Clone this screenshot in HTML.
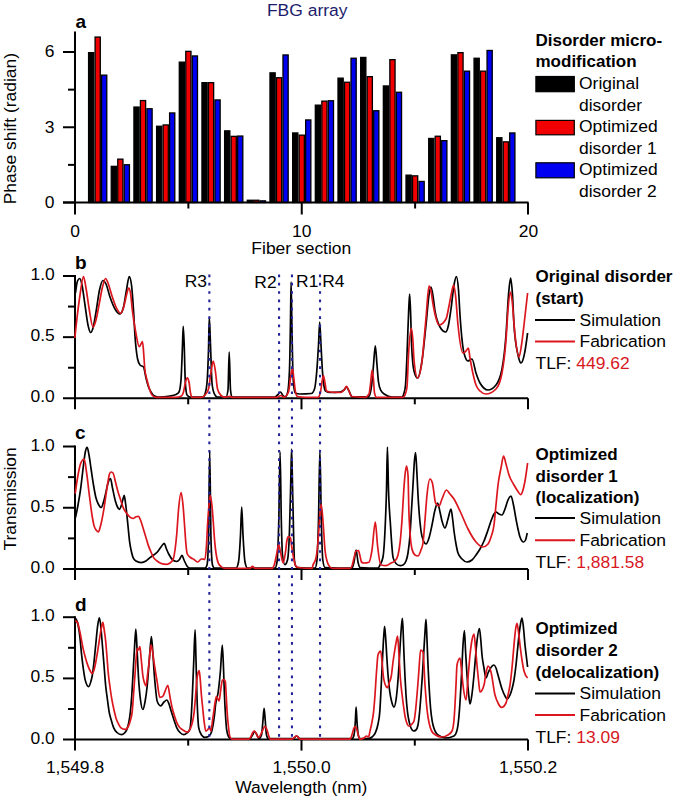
<!DOCTYPE html><html><head><meta charset="utf-8"><style>html,body{margin:0;padding:0;background:#fff;overflow:hidden;}svg{display:block;}</style></head><body>
<svg width="675" height="801" viewBox="0 0 675 801" font-family="&apos;Liberation Sans&apos;, sans-serif" font-size="16.8">
<rect width="675" height="801" fill="#fff"/>
<rect x="88.58" y="52.65" width="5.2" height="149.85" fill="#000" stroke="#000" stroke-width="1.3"/>
<rect x="95.08" y="37.05" width="5.2" height="165.45" fill="#f00000" stroke="#000" stroke-width="1.3"/>
<rect x="101.58" y="75.15" width="5.2" height="127.35" fill="#0000f0" stroke="#000" stroke-width="1.3"/>
<rect x="111.25" y="166.35" width="5.2" height="36.15" fill="#000" stroke="#000" stroke-width="1.3"/>
<rect x="117.75" y="159.15" width="5.2" height="43.35" fill="#f00000" stroke="#000" stroke-width="1.3"/>
<rect x="124.25" y="164.75" width="5.2" height="37.75" fill="#0000f0" stroke="#000" stroke-width="1.3"/>
<rect x="133.93" y="107.05" width="5.2" height="95.45" fill="#000" stroke="#000" stroke-width="1.3"/>
<rect x="140.43" y="100.55" width="5.2" height="101.95" fill="#f00000" stroke="#000" stroke-width="1.3"/>
<rect x="146.93" y="108.75" width="5.2" height="93.75" fill="#0000f0" stroke="#000" stroke-width="1.3"/>
<rect x="156.6" y="126.25" width="5.2" height="76.25" fill="#000" stroke="#000" stroke-width="1.3"/>
<rect x="163.1" y="124.95" width="5.2" height="77.55" fill="#f00000" stroke="#000" stroke-width="1.3"/>
<rect x="169.6" y="112.95" width="5.2" height="89.55" fill="#0000f0" stroke="#000" stroke-width="1.3"/>
<rect x="179.28" y="62.15" width="5.2" height="140.35" fill="#000" stroke="#000" stroke-width="1.3"/>
<rect x="185.78" y="51.35" width="5.2" height="151.15" fill="#f00000" stroke="#000" stroke-width="1.3"/>
<rect x="192.28" y="55.95" width="5.2" height="146.55" fill="#0000f0" stroke="#000" stroke-width="1.3"/>
<rect x="201.95" y="82.65" width="5.2" height="119.85" fill="#000" stroke="#000" stroke-width="1.3"/>
<rect x="208.45" y="82.65" width="5.2" height="119.85" fill="#f00000" stroke="#000" stroke-width="1.3"/>
<rect x="214.95" y="99.95" width="5.2" height="102.55" fill="#0000f0" stroke="#000" stroke-width="1.3"/>
<rect x="224.62" y="130.85" width="5.2" height="71.65" fill="#000" stroke="#000" stroke-width="1.3"/>
<rect x="231.12" y="136.35" width="5.2" height="66.15" fill="#f00000" stroke="#000" stroke-width="1.3"/>
<rect x="237.62" y="136.05" width="5.2" height="66.45" fill="#0000f0" stroke="#000" stroke-width="1.3"/>
<rect x="247.3" y="200.25" width="5.2" height="2.25" fill="#000" stroke="#000" stroke-width="1.3"/>
<rect x="253.8" y="200.25" width="5.2" height="2.25" fill="#f00000" stroke="#000" stroke-width="1.3"/>
<rect x="260.3" y="200.85" width="5.2" height="1.65" fill="#0000f0" stroke="#000" stroke-width="1.3"/>
<rect x="269.98" y="72.85" width="5.2" height="129.65" fill="#000" stroke="#000" stroke-width="1.3"/>
<rect x="276.48" y="77.75" width="5.2" height="124.75" fill="#f00000" stroke="#000" stroke-width="1.3"/>
<rect x="282.98" y="54.95" width="5.2" height="147.55" fill="#0000f0" stroke="#000" stroke-width="1.3"/>
<rect x="292.65" y="132.95" width="5.2" height="69.55" fill="#000" stroke="#000" stroke-width="1.3"/>
<rect x="299.15" y="135.15" width="5.2" height="67.35" fill="#f00000" stroke="#000" stroke-width="1.3"/>
<rect x="305.65" y="119.95" width="5.2" height="82.55" fill="#0000f0" stroke="#000" stroke-width="1.3"/>
<rect x="315.32" y="105.15" width="5.2" height="97.35" fill="#000" stroke="#000" stroke-width="1.3"/>
<rect x="321.82" y="101.15" width="5.2" height="101.35" fill="#f00000" stroke="#000" stroke-width="1.3"/>
<rect x="328.32" y="100.75" width="5.2" height="101.75" fill="#0000f0" stroke="#000" stroke-width="1.3"/>
<rect x="338" y="78.15" width="5.2" height="124.35" fill="#000" stroke="#000" stroke-width="1.3"/>
<rect x="344.5" y="82.25" width="5.2" height="120.25" fill="#f00000" stroke="#000" stroke-width="1.3"/>
<rect x="351" y="58.25" width="5.2" height="144.25" fill="#0000f0" stroke="#000" stroke-width="1.3"/>
<rect x="360.68" y="57.45" width="5.2" height="145.05" fill="#000" stroke="#000" stroke-width="1.3"/>
<rect x="367.18" y="76.65" width="5.2" height="125.85" fill="#f00000" stroke="#000" stroke-width="1.3"/>
<rect x="373.68" y="110.75" width="5.2" height="91.75" fill="#0000f0" stroke="#000" stroke-width="1.3"/>
<rect x="383.35" y="85.95" width="5.2" height="116.55" fill="#000" stroke="#000" stroke-width="1.3"/>
<rect x="389.85" y="59.65" width="5.2" height="142.85" fill="#f00000" stroke="#000" stroke-width="1.3"/>
<rect x="396.35" y="92.25" width="5.2" height="110.25" fill="#0000f0" stroke="#000" stroke-width="1.3"/>
<rect x="406.02" y="175.15" width="5.2" height="27.35" fill="#000" stroke="#000" stroke-width="1.3"/>
<rect x="412.52" y="175.85" width="5.2" height="26.65" fill="#f00000" stroke="#000" stroke-width="1.3"/>
<rect x="419.02" y="181.45" width="5.2" height="21.05" fill="#0000f0" stroke="#000" stroke-width="1.3"/>
<rect x="428.7" y="138.45" width="5.2" height="64.05" fill="#000" stroke="#000" stroke-width="1.3"/>
<rect x="435.2" y="136.25" width="5.2" height="66.25" fill="#f00000" stroke="#000" stroke-width="1.3"/>
<rect x="441.7" y="140.65" width="5.2" height="61.85" fill="#0000f0" stroke="#000" stroke-width="1.3"/>
<rect x="451.38" y="54.85" width="5.2" height="147.65" fill="#000" stroke="#000" stroke-width="1.3"/>
<rect x="457.88" y="52.65" width="5.2" height="149.85" fill="#f00000" stroke="#000" stroke-width="1.3"/>
<rect x="464.38" y="71.15" width="5.2" height="131.35" fill="#0000f0" stroke="#000" stroke-width="1.3"/>
<rect x="474.05" y="58.25" width="5.2" height="144.25" fill="#000" stroke="#000" stroke-width="1.3"/>
<rect x="480.55" y="71.15" width="5.2" height="131.35" fill="#f00000" stroke="#000" stroke-width="1.3"/>
<rect x="487.05" y="50.45" width="5.2" height="152.05" fill="#0000f0" stroke="#000" stroke-width="1.3"/>
<rect x="496.72" y="137.75" width="5.2" height="64.75" fill="#000" stroke="#000" stroke-width="1.3"/>
<rect x="503.22" y="141.85" width="5.2" height="60.65" fill="#f00000" stroke="#000" stroke-width="1.3"/>
<rect x="509.72" y="132.95" width="5.2" height="69.55" fill="#0000f0" stroke="#000" stroke-width="1.3"/>
<path d="M75,31.5 V214.5 M63,202.5 H528.5 M528,202.5 V214.5" stroke="#000" stroke-width="2" fill="none"/>
<path d="M63,202.5 H75" stroke="#000" stroke-width="2" fill="none"/>
<path d="M68,164.88 H75" stroke="#000" stroke-width="2" fill="none"/>
<path d="M63,127.26 H75" stroke="#000" stroke-width="2" fill="none"/>
<path d="M68,89.64 H75" stroke="#000" stroke-width="2" fill="none"/>
<path d="M63,52.02 H75" stroke="#000" stroke-width="2" fill="none"/>
<path d="M188.38,202.5 V208.5" stroke="#000" stroke-width="2" fill="none"/>
<path d="M301.75,202.5 V214.5" stroke="#000" stroke-width="2" fill="none"/>
<path d="M415.12,202.5 V208.5" stroke="#000" stroke-width="2" fill="none"/>
<text transform="translate(54.5,207.8) scale(1.04,1)" text-anchor="end">0</text>
<text transform="translate(54.5,132.56) scale(1.04,1)" text-anchor="end">3</text>
<text transform="translate(54.5,57.32) scale(1.04,1)" text-anchor="end">6</text>
<text transform="translate(75,236.5) scale(1.04,1)" text-anchor="middle">0</text>
<text transform="translate(301.75,236.5) scale(1.04,1)" text-anchor="middle">10</text>
<text transform="translate(528.5,236.5) scale(1.04,1)" text-anchor="middle">20</text>
<text transform="translate(301.3,254) scale(1.04,1)" text-anchor="middle">Fiber section</text>
<text transform="translate(15.5,128.6) rotate(-90) scale(1.04,1)" text-anchor="middle">Phase shift (radian)</text>
<text x="75.6" y="27.9" font-weight="bold" font-size="19">a</text>
<text transform="translate(307.2,16.2) scale(1.04,1)" text-anchor="middle" fill="#1c1c6c">FBG array</text>
<text x="535.5" y="45.6" font-weight="bold" font-size="17">Disorder micro-</text>
<text x="535.5" y="66.8" font-weight="bold" font-size="17">modification</text>
<rect x="535.9" y="76.5" width="38.4" height="15.2" fill="#000" stroke="#000" stroke-width="1.2"/>
<text transform="translate(579,89.3) scale(1.04,1)">Original</text>
<text transform="translate(579,110.6) scale(1.04,1)">disorder</text>
<rect x="535.9" y="120.4" width="38.4" height="14.4" fill="#f00000" stroke="#000" stroke-width="1.2"/>
<text transform="translate(579,132.2) scale(1.04,1)">Optimized</text>
<text transform="translate(579,153.5) scale(1.04,1)">disorder 1</text>
<rect x="535.9" y="162.8" width="38.4" height="15" fill="#0000f0" stroke="#000" stroke-width="1.2"/>
<text transform="translate(579,175.4) scale(1.04,1)">Optimized</text>
<text transform="translate(579,196.7) scale(1.04,1)">disorder 2</text>
<path d="M75,275 V409.3 M63,398.3 H528 M528,398.3 V409.3" stroke="#000" stroke-width="2" fill="none"/>
<path d="M68,367.73 H75" stroke="#000" stroke-width="2" fill="none"/>
<path d="M63,337.15 H75" stroke="#000" stroke-width="2" fill="none"/>
<path d="M68,306.57 H75" stroke="#000" stroke-width="2" fill="none"/>
<path d="M63,276 H75" stroke="#000" stroke-width="2" fill="none"/>
<path d="M188.2,398.3 V404.3" stroke="#000" stroke-width="2" fill="none"/>
<path d="M301.5,398.3 V409.3" stroke="#000" stroke-width="2" fill="none"/>
<path d="M414.8,398.3 V404.3" stroke="#000" stroke-width="2" fill="none"/>
<text transform="translate(54.7,402.3) scale(1.04,1)" text-anchor="end">0.0</text>
<text transform="translate(54.7,341.15) scale(1.04,1)" text-anchor="end">0.5</text>
<text transform="translate(54.7,280) scale(1.04,1)" text-anchor="end">1.0</text>
<text x="75" y="268.5" font-weight="bold" font-size="19">b</text>
<path d="M75,445.5 V580 M63,569 H528 M528,569 V580" stroke="#000" stroke-width="2" fill="none"/>
<path d="M68,538.38 H75" stroke="#000" stroke-width="2" fill="none"/>
<path d="M63,507.75 H75" stroke="#000" stroke-width="2" fill="none"/>
<path d="M68,477.12 H75" stroke="#000" stroke-width="2" fill="none"/>
<path d="M63,446.5 H75" stroke="#000" stroke-width="2" fill="none"/>
<path d="M188.2,569 V575" stroke="#000" stroke-width="2" fill="none"/>
<path d="M301.5,569 V580" stroke="#000" stroke-width="2" fill="none"/>
<path d="M414.8,569 V575" stroke="#000" stroke-width="2" fill="none"/>
<text transform="translate(54.7,573) scale(1.04,1)" text-anchor="end">0.0</text>
<text transform="translate(54.7,511.75) scale(1.04,1)" text-anchor="end">0.5</text>
<text transform="translate(54.7,450.5) scale(1.04,1)" text-anchor="end">1.0</text>
<text x="75" y="438.8" font-weight="bold" font-size="19">c</text>
<path d="M75,616.2 V750.6 M63,739.6 H528 M528,739.6 V750.6" stroke="#000" stroke-width="2" fill="none"/>
<path d="M68,709 H75" stroke="#000" stroke-width="2" fill="none"/>
<path d="M63,678.4 H75" stroke="#000" stroke-width="2" fill="none"/>
<path d="M68,647.8 H75" stroke="#000" stroke-width="2" fill="none"/>
<path d="M63,617.2 H75" stroke="#000" stroke-width="2" fill="none"/>
<path d="M188.2,739.6 V745.6" stroke="#000" stroke-width="2" fill="none"/>
<path d="M301.5,739.6 V750.6" stroke="#000" stroke-width="2" fill="none"/>
<path d="M414.8,739.6 V745.6" stroke="#000" stroke-width="2" fill="none"/>
<text transform="translate(54.7,743.6) scale(1.04,1)" text-anchor="end">0.0</text>
<text transform="translate(54.7,682.4) scale(1.04,1)" text-anchor="end">0.5</text>
<text transform="translate(54.7,621.2) scale(1.04,1)" text-anchor="end">1.0</text>
<text x="75" y="611.2" font-weight="bold" font-size="19">d</text>
<path d="M75.5,293 C76.17,287.72 76.83,282.45 77.5,281 C78.27,279.33 79.03,278.5 79.8,278.5 C80.53,278.5 81.27,281.68 82,285 C83,289.53 84,298.33 85,305 C86,311.67 87,320.36 88,325 C88.87,329.02 89.73,332.5 90.6,332.5 C91.4,332.5 92.2,330.73 93,328 C94,324.59 95,317.77 96,312 C97.17,305.26 98.33,295.27 99.5,290 C100.63,284.88 101.77,280.5 102.9,280.5 C103.93,280.5 104.97,281.88 106,284 C107.33,286.74 108.67,293.17 110,297 C111.67,301.79 113.33,306.16 115,309 C116.6,311.73 118.2,314 119.8,314 C120.87,314 121.93,312.33 123,309 C124.17,305.35 125.33,296.05 126.5,290 C127.4,285.33 128.3,276.5 129.2,276.5 C129.97,276.5 130.73,279.33 131.5,285 C132.17,289.93 132.83,299.83 133.5,310 C134,317.63 134.5,328.89 135,336 C135.87,348.33 136.73,354.67 137.6,359 C138.4,363 139.2,364.09 140,365 C141.17,366.33 142.33,365.67 143.5,367 C144.33,367.95 145.17,374.67 146,378 C146.73,380.93 147.47,383.82 148.2,386 C149.13,388.78 150.07,390.39 151,392 C151.87,393.5 152.73,394.91 153.6,395.5 C155.07,396.5 156.53,397 158,397 C162,397 166,396.67 170,396 C172,395.67 174,395.5 176,394.5 C177,394 178,393.67 179,392 C179.67,390.89 180.33,388 181,380 C181.5,374 182,357.82 182.5,345 C182.73,339.02 182.97,326.3 183.2,326.3 C183.53,326.3 183.87,336.4 184.2,345 C184.57,354.46 184.93,376.39 185.3,382 C185.87,390.67 186.43,394.24 187,395 C188,396.33 189,397 190,397 C194.33,397 198.67,397 203,397 C203.67,397 204.33,396 205,394 C205.67,392 206.33,390.33 207,383 C207.5,377.5 208,367.11 208.5,350 C208.77,340.87 209.03,317.4 209.3,317.4 C209.7,317.4 210.1,335.39 210.5,345 C211,357.02 211.5,378 212,383 C212.67,389.67 213.33,391.38 214,393 C215.1,395.67 216.2,397 217.3,397 C220.2,397 223.1,397 226,397 C226.67,397 227.33,394.67 228,390 C228.4,387.2 228.8,352 229.2,352 C229.63,352 230.07,385.96 230.5,390 C231,394.67 231.5,397 232,397 C246.33,397 260.67,397 275,397 C275.83,397 276.67,395.76 277.5,395 C278.47,394.12 279.43,392 280.4,392 C281.27,392 282.13,394.63 283,395.5 C283.67,396.17 284.33,397 285,397 C285.83,397 286.67,395.67 287.5,393 C288.17,390.87 288.83,385.33 289.5,370 C289.83,362.33 290.17,339.44 290.5,320 C290.7,308.33 290.9,282 291.1,282 C291.33,282 291.57,307.75 291.8,320 C292.13,337.51 292.47,360 292.8,370 C293.2,382 293.6,384.92 294,388 C294.43,391.33 294.87,392.82 295.3,393 C296.87,393.67 298.43,394 300,394 C303.77,394 307.53,393.83 311.3,393.5 C312.37,393.41 313.43,392 314.5,389 C315.23,386.94 315.97,380.6 316.7,372 C317.3,364.96 317.9,355.44 318.5,345 C318.9,338.04 319.3,322.2 319.7,322.2 C320.13,322.2 320.57,337.31 321,345 C321.5,353.88 322,365.17 322.5,372 C323,378.83 323.5,382.88 324,386 C324.53,389.33 325.07,390.64 325.6,391 C327.07,392 328.53,392.5 330,392.5 C333.33,392.5 336.67,392.33 340,392 C341.33,391.87 342.67,391.18 344,390 C344.83,389.27 345.67,387.2 346.5,387.2 C347.33,387.2 348.17,389.6 349,391 C350.07,392.79 351.13,397 352.2,397 C354.8,397 357.4,396.8 360,396.8 C362.67,396.8 365.33,397 368,397 C368.67,397 369.33,396 370,394 C370.67,392 371.33,388.03 372,382 C372.5,377.48 373,370.52 373.5,365 C374.1,358.38 374.7,345.8 375.3,345.8 C375.87,345.8 376.43,358.59 377,365 C377.5,370.66 378,378.27 378.5,382 C379.23,387.47 379.97,388.73 380.7,390.2 C382.13,393.07 383.57,393.48 385,394.5 C387.33,396.17 389.67,397 392,397 C395.33,397 398.67,397 402,397 C402.67,397 403.33,395.6 404,393 C404.5,391.05 405,390.33 405.5,385 C406,379.67 406.5,366.67 407,355 C407.5,343.33 408,326.15 408.5,315 C408.87,306.82 409.23,294 409.6,294 C409.9,294 410.2,302.77 410.5,310 C410.87,318.84 411.23,337.06 411.6,345 C412.4,362.33 413.2,367.89 414,371 C415.2,375.67 416.4,378 417.6,378 C419.07,378 420.53,370.61 422,361 C423.33,352.26 424.67,337.76 426,325 C427,315.43 428,301.4 429,295 C429.67,290.73 430.33,287 431,287 C431.67,287 432.33,292 433,296 C433.67,300 434.33,306.82 435,311 C436.67,321.45 438.33,324.02 440,327 C441.87,330.33 443.73,332 445.6,332 C446.57,332 447.53,329.4 448.5,325 C449.33,321.2 450.17,314.94 451,309 C452,301.87 453,290.5 454,285 C454.8,280.6 455.6,276.6 456.4,276.6 C457.1,276.6 457.8,281.33 458.5,290 C459,296.19 459.5,307.64 460,315 C461.33,334.62 462.67,347.67 464,353 C465.33,358.33 466.67,361 468,361 C469.33,361 470.67,359 472,359 C473.33,359 474.67,369 476,373 C477.33,377 478.67,380.67 480,383 C482.67,387.67 485.33,390 488,390 C490.67,390 493.33,388.33 496,385 C498,382.5 500,379.67 502,369 C503.33,361.89 504.67,352.49 506,335 C506.83,324.07 507.67,304.75 508.5,295 C509.2,286.81 509.9,278 510.6,278 C511.23,278 511.87,285.42 512.5,295 C513,302.56 513.5,317.5 514,325 C515.33,345 516.67,348.68 518,355 C519,359.74 520,363 521,363 C522.33,363 523.67,358.17 525,351 C525.87,346.34 526.73,339.67 527.6,333" fill="none" stroke="#000" stroke-width="1.7" stroke-linejoin="round"/>
<path d="M75.5,517.6 C76.33,513.63 77.17,509.66 78,505 C78.9,499.97 79.8,494.81 80.7,488.3 C81.63,481.55 82.57,472.05 83.5,465 C84.17,459.97 84.83,453.82 85.5,451 C86.07,448.6 86.63,447.4 87.2,447.4 C87.8,447.4 88.4,451.8 89,455 C89.77,459.08 90.53,465.39 91.3,470.5 C92.03,475.39 92.77,480.63 93.5,485 C94.27,489.57 95.03,494.05 95.8,497.2 C96.7,500.9 97.6,502.78 98.5,504.5 C99.37,506.16 100.23,507.5 101.1,507.5 C101.9,507.5 102.7,504.56 103.5,502 C104.2,499.76 104.9,496.54 105.6,493.6 C106.4,490.24 107.2,485.51 108,483 C108.83,480.39 109.67,478.5 110.5,478.5 C111.17,478.5 111.83,484.89 112.5,488 C113.43,492.35 114.37,497.34 115.3,500.7 C116.03,503.34 116.77,505.55 117.5,507 C118.13,508.25 118.77,509.3 119.4,509.3 C120.1,509.3 120.8,507.23 121.5,505 C122,503.41 122.5,500.72 123,499 C123.4,497.62 123.8,495.4 124.2,495.4 C124.63,495.4 125.07,499.9 125.5,503 C125.97,506.34 126.43,510.65 126.9,515 C127.33,519.04 127.77,523.73 128.2,528 C128.67,532.6 129.13,537.91 129.6,541.6 C130.23,546.61 130.87,549.21 131.5,552 C132.03,554.35 132.57,556.35 133.1,557.6 C134.07,559.87 135.03,560.39 136,561 C137.7,562.07 139.4,562.6 141.1,562.6 C142.73,562.6 144.37,562 146,561 C147.33,560.18 148.67,558.68 150,557.6 C152.37,555.68 154.73,555 157.1,552.3 C158.4,550.82 159.7,548.6 161,547 C162.07,545.69 163.13,543.4 164.2,543.4 C164.97,543.4 165.73,547.2 166.5,549 C167.23,550.72 167.97,552.54 168.7,554 C170.17,556.91 171.63,559.14 173.1,560.2 C174.3,561.07 175.5,561.5 176.7,561.5 C177.63,561.5 178.57,560.62 179.5,559.5 C180.33,558.5 181.17,555.4 182,555.4 C182.67,555.4 183.33,558.55 184,560 C185.1,562.39 186.2,565.14 187.3,566.5 C188.2,567.61 189.1,568.2 190,568.2 C195,568.2 200,568.2 205,568.2 C205.67,568.2 206.33,567.13 207,565 C207.5,563.4 208,556.67 208.5,540 C208.9,526.67 209.3,451 209.7,451 C210.13,451 210.57,525.56 211,540 C211.5,556.67 212,563.4 212.5,565 C213.17,567.13 213.83,568.2 214.5,568.2 C221.67,568.2 228.83,568.2 236,568.2 C236.83,568.2 237.67,566.13 238.5,562 C239.17,558.69 239.83,548.1 240.5,535 C240.9,527.14 241.3,507 241.7,507 C242.13,507 242.57,527.04 243,535 C243.67,547.25 244.33,558.69 245,562 C245.83,566.13 246.67,568.2 247.5,568.2 C256.67,568.2 265.83,568.2 275,568.2 C275.67,568.2 276.33,566.13 277,562 C277.6,558.28 278.2,544.09 278.8,520 C279.23,502.6 279.67,452 280.1,452 C280.5,452 280.9,502.83 281.3,520 C281.7,537.17 282.1,551.77 282.5,555 C283.3,561.47 284.1,564.7 284.9,564.7 C285.77,564.7 286.63,563.13 287.5,560 C288.17,557.59 288.83,549.48 289.5,530 C289.93,517.34 290.37,496.68 290.8,480 C291.07,469.74 291.33,449.2 291.6,449.2 C291.87,449.2 292.13,468.95 292.4,480 C292.77,495.19 293.13,515.78 293.5,530 C293.8,541.64 294.1,557.56 294.4,560 C294.93,564.33 295.47,565.97 296,566.5 C296.67,567.17 297.33,567.45 298,567.5 C303.67,567.97 309.33,568.2 315,568.2 C315.67,568.2 316.33,565.47 317,560 C317.5,555.9 318,539.35 318.5,520 C318.97,501.94 319.43,450.1 319.9,450.1 C320.37,450.1 320.83,501.94 321.3,520 C321.8,539.35 322.3,556.59 322.8,560 C323.53,565 324.27,567.46 325,567.5 C334,567.97 343,568.2 352,568.2 C352.67,568.2 353.33,564.9 354,562 C354.7,558.95 355.4,550.1 356.1,550.1 C356.73,550.1 357.37,559.12 358,562 C358.67,565.03 359.33,567.45 360,567.5 C366,567.97 372,568.2 378,568.2 C378.67,568.2 379.33,566.35 380,565 C381,562.97 382,562.33 383,557 C383.77,552.91 384.53,541.78 385.3,523.8 C385.7,514.42 386.1,505.72 386.5,490 C386.8,478.21 387.1,447.1 387.4,447.1 C387.77,447.1 388.13,478.55 388.5,490 C389.13,509.77 389.77,513.91 390.4,523.8 C391.3,537.85 392.2,553.94 393.1,557.6 C394.07,561.53 395.03,562.53 396,563.5 C397.4,564.9 398.8,565.6 400.2,565.6 C401.13,565.6 402.07,565.4 403,565 C404,564.57 405,563.67 406,561 C406.67,559.22 407.33,557.33 408,553 C408.67,548.67 409.33,543.92 410,535 C410.5,528.31 411,518.33 411.5,510 C412,501.67 412.5,493.33 413,485 C413.5,476.67 414,465.47 414.5,460 C414.87,455.99 415.23,452.6 415.6,452.6 C416.07,452.6 416.53,466.44 417,475 C417.33,481.11 417.67,489 418,495 C419,513 420,523.36 421,531 C421.83,537.36 422.67,539 423.5,541 C424.33,543 425.17,544 426,544 C427,544 428,541.17 429,538 C430,534.83 431,529.67 432,525 C433,520.33 434,513.76 435,510 C435.87,506.74 436.73,503 437.6,503 C438.4,503 439.2,508.67 440,512 C440.67,514.77 441.33,518.58 442,521 C443,524.63 444,528 445,528 C446,528 447,522.17 448,519 C449,515.83 450,509 451,509 C451.5,509 452,514.33 452.5,518 C453,521.67 453.5,527.13 454,531 C454.67,536.16 455.33,540.33 456,544 C456.67,547.67 457.33,551 458,553 C459.33,557 460.67,557.53 462,559 C463.67,560.83 465.33,562 467,562 C468.67,562 470.33,561.33 472,560 C473.33,558.93 474.67,556.83 476,555 C477.33,553.17 478.67,551.33 480,549 C481.33,546.67 482.67,544.17 484,541 C485.33,537.83 486.67,533.86 488,530 C489,527.11 490,523.67 491,521 C492,518.33 493,515.53 494,514 C494.67,512.98 495.33,512 496,512 C497,512 498,513.5 499,514 C500,514.5 501,515 502,515 C503,515 504,511.5 505,509 C506,506.5 507,502.17 508,500 C509,497.83 510,496 511,496 C511.83,496 512.67,501.17 513.5,505 C514.33,508.83 515.17,514.61 516,519 C516.67,522.51 517.33,526 518,529 C518.67,532 519.33,535.15 520,537 C521.2,540.33 522.4,542 523.6,542 C524.23,542 524.87,541.33 525.5,540 C526.07,538.81 526.63,535.9 527.2,533" fill="none" stroke="#000" stroke-width="1.7" stroke-linejoin="round"/>
<path d="M75.5,618.3 C76.33,619.38 77.17,620.46 78,624.5 C78.67,627.73 79.33,632.13 80,638 C80.53,642.69 81.07,649.71 81.6,654.7 C82.23,660.62 82.87,665.61 83.5,670 C84.03,673.7 84.57,677.5 85.1,679.6 C86.3,684.33 87.5,686.7 88.7,686.7 C89.47,686.7 90.23,683.75 91,681 C91.4,679.56 91.8,678.24 92.2,676 C92.8,672.63 93.4,667.33 94,662 C94.6,656.67 95.2,650 95.8,644 C96.37,638.33 96.93,631.32 97.5,627 C98.1,622.42 98.7,617.8 99.3,617.8 C99.8,617.8 100.3,621.43 100.8,626 C101.2,629.66 101.6,635.64 102,640.5 C102.67,648.6 103.33,656.74 104,665 C104.53,671.61 105.07,679.46 105.6,685 C106.23,691.58 106.87,695.22 107.5,700 C108.03,704.02 108.57,708.44 109.1,711.6 C109.9,716.33 110.7,718.2 111.5,721 C112.2,723.45 112.9,725.85 113.6,727.6 C114.73,730.43 115.87,731.42 117,732.5 C118.53,733.97 120.07,734.7 121.6,734.7 C122.57,734.7 123.53,734.05 124.5,733 C125.3,732.13 126.1,731.56 126.9,729.4 C127.57,727.6 128.23,725.7 128.9,722 C129.4,719.23 129.9,716.34 130.4,711.6 C130.87,707.18 131.33,701.85 131.8,695 C132.23,688.64 132.67,680.04 133.1,672.5 C133.57,664.38 134.03,655.47 134.5,648 C134.93,641.06 135.37,629 135.8,629 C136.2,629 136.6,640.9 137,648 C137.47,656.29 137.93,668.27 138.4,676 C139.1,687.6 139.8,694.46 140.5,700 C141.3,706.33 142.1,709.5 142.9,709.5 C143.6,709.5 144.3,705.78 145,702 C145.77,697.86 146.53,692.76 147.3,685 C148.03,677.58 148.77,665.55 149.5,657 C150.13,649.62 150.77,636.6 151.4,636.6 C151.93,636.6 152.47,647.87 153,655 C153.47,661.24 153.93,670 154.4,676 C154.87,682 155.33,686.73 155.8,691 C156.23,694.96 156.67,699.82 157.1,701 C158.3,704.27 159.5,705.9 160.7,705.9 C161.8,705.9 162.9,703.01 164,702 C164.97,701.11 165.93,700 166.9,700 C167.6,700 168.3,702.2 169,704 C169.77,705.97 170.53,709.13 171.3,711.6 C172.2,714.49 173.1,717.33 174,720 C174.9,722.67 175.8,725.61 176.7,727.6 C177.8,730.04 178.9,731.33 180,732.5 C181.27,733.85 182.53,734.7 183.8,734.7 C184.87,734.7 185.93,734 187,733 C187.93,732.13 188.87,731.8 189.8,729.4 C190.27,728.2 190.73,723.77 191.2,717 C191.6,711.2 192,702.42 192.4,693.8 C192.87,683.74 193.33,671.03 193.8,660 C194.23,649.76 194.67,629.9 195.1,629.9 C195.4,629.9 195.7,649.35 196,660 C196.3,670.65 196.6,684.41 196.9,693.8 C197.5,712.58 198.1,724.43 198.7,727.6 C199.63,732.53 200.57,733.68 201.5,735 C202.63,736.6 203.77,737.4 204.9,737.4 C206.1,737.4 207.3,737.1 208.5,736.5 C209.5,736 210.5,735 211.5,732 C211.97,730.6 212.43,728.37 212.9,725.8 C213.43,722.86 213.97,719.48 214.5,715 C214.87,711.92 215.23,707.48 215.6,704.5 C216.47,697.45 217.33,698.35 218.2,692 C218.97,686.38 219.73,679.19 220.5,670 C221.1,662.81 221.7,645 222.3,645 C222.7,645 223.1,658.16 223.5,668 C223.8,675.38 224.1,686.47 224.4,693.8 C224.77,702.76 225.13,709.07 225.5,715 C225.87,720.93 226.23,726.66 226.6,729.4 C227.23,734.13 227.87,735.39 228.5,736.5 C229.33,737.97 230.17,738.7 231,738.7 C237.33,738.7 243.67,738.7 250,738.7 C250.83,738.7 251.67,736.28 252.5,735 C253.23,733.87 253.97,731.5 254.7,731.5 C255.47,731.5 256.23,733.7 257,735 C257.67,736.13 258.33,738.7 259,738.7 C259.83,738.7 260.67,737.47 261.5,735 C262,733.52 262.5,725.16 263,720 C263.37,716.22 263.73,708.4 264.1,708.4 C264.47,708.4 264.83,715.97 265.2,720 C265.63,724.77 266.07,733.4 266.5,735 C267.17,737.47 267.83,738.7 268.5,738.7 C276.67,738.7 284.83,738.7 293,738.7 C294.2,738.7 295.4,736 296.6,736 C297.73,736 298.87,738.7 300,738.7 C317.33,738.7 334.67,738.7 352,738.7 C352.67,738.7 353.33,737.47 354,735 C354.43,733.4 354.87,728.65 355.3,722 C355.57,717.91 355.83,707.1 356.1,707.1 C356.4,707.1 356.7,717.84 357,722 C357.43,728.01 357.87,733.11 358.3,735 C358.87,737.47 359.43,738.7 360,738.7 C362.67,738.7 365.33,738.7 368,738.7 C369.33,738.7 370.67,738.13 372,737 C373.1,736.06 374.2,735.51 375.3,732.9 C376.2,730.77 377.1,728.91 378,724 C378.6,720.73 379.2,719.73 379.8,711.6 C380.2,706.18 380.6,697.77 381,690 C381.37,682.88 381.73,674.59 382.1,667.2 C382.57,657.79 383.03,647.24 383.5,640 C383.87,634.31 384.23,626.3 384.6,626.3 C385,626.3 385.4,634.34 385.8,640 C386.17,645.18 386.53,652.58 386.9,658.3 C387.33,665.06 387.77,671.79 388.2,677 C388.67,682.62 389.13,686.63 389.6,690.3 C390.23,695.28 390.87,698.31 391.5,701 C392.33,704.54 393.17,707.1 394,707.1 C394.67,707.1 395.33,704.52 396,700 C396.53,696.38 397.07,691.4 397.6,685 C398.07,679.4 398.53,672.53 399,665 C399.3,660.16 399.6,654.36 399.9,649.4 C400.37,641.69 400.83,633.44 401.3,628 C401.67,623.72 402.03,618.3 402.4,618.3 C402.67,618.3 402.93,626.88 403.2,633 C403.47,639.12 403.73,648.32 404,655 C404.33,663.35 404.67,670.33 405,677 C405.33,683.67 405.67,689.89 406,695 C406.5,702.67 407,707.67 407.5,712 C408,716.33 408.5,718.54 409,721 C409.67,724.29 410.33,726.46 411,728 C411.87,730 412.73,731 413.6,731 C414.4,731 415.2,730.67 416,730 C416.67,729.44 417.33,728.33 418,725 C418.53,722.33 419.07,717.48 419.6,712 C420.07,707.21 420.53,701.17 421,695 C421.47,688.83 421.93,682.26 422.4,675 C422.8,668.77 423.2,661.62 423.6,655 C424.07,647.27 424.53,638.62 425,632 C425.33,627.27 425.67,619.4 426,619.4 C426.33,619.4 426.67,632.4 427,640 C427.33,647.6 427.67,657.5 428,665 C428.33,672.5 428.67,679 429,685 C429.33,691 429.67,696.33 430,701 C431,715 432,721 433,725 C434.67,731.67 436.33,733.75 438,735 C440.67,737 443.33,738 446,738 C448.67,738 451.33,737.33 454,736 C454.83,735.58 455.67,734.67 456.5,732 C457,730.4 457.5,728.77 458,725 C458.53,720.97 459.07,715.32 459.6,708 C460.07,701.6 460.53,693.64 461,685 C461.33,678.83 461.67,671.67 462,665 C462.33,658.33 462.67,650.32 463,645 C463.47,637.56 463.93,630.6 464.4,630.6 C464.8,630.6 465.2,645.13 465.6,652 C466.07,660.02 466.53,668.33 467,675 C467.5,682.15 468,688.17 468.5,693 C469,697.83 469.5,704 470,704 C470.67,704 471.33,698.83 472,694 C472.67,689.17 473.33,682.29 474,675 C474.5,669.54 475,662.67 475.5,657 C476,651.33 476.5,645.28 477,641 C477.8,634.16 478.6,628.6 479.4,628.6 C479.87,628.6 480.33,635.11 480.8,640 C481.2,644.2 481.6,650.9 482,655 C482.67,661.83 483.33,664.17 484,668 C484.67,671.83 485.33,678 486,678 C486.67,678 487.33,674.5 488,673 C488.67,671.5 489.33,670.11 490,669 C491.33,666.78 492.67,665 494,665 C494.67,665 495.33,666.33 496,668 C496.67,669.67 497.33,672.67 498,675 C499.33,679.67 500.67,685.22 502,689 C503,691.83 504,694.17 505,696 C505.67,697.22 506.33,699 507,699 C508,699 509,697.33 510,695 C510.67,693.44 511.33,691.5 512,689 C512.67,686.5 513.33,684 514,680 C514.67,676 515.33,670.95 516,665 C516.5,660.54 517,655 517.5,650 C518,645 518.5,639.33 519,635 C519.5,630.67 520,626.83 520.5,624 C521,621.17 521.5,618 522,618 C522.5,618 523,623.5 523.5,628 C524,632.5 524.5,640.1 525,645 C525.43,649.24 525.87,652.33 526.3,656 C526.73,659.67 527.17,663.33 527.6,667" fill="none" stroke="#000" stroke-width="1.7" stroke-linejoin="round"/>
<path d="M74.8,338 C75.53,331.11 76.27,324.22 77,318 C78,309.51 79,301.57 80,295 C81.17,287.34 82.33,276.5 83.5,276.5 C84.33,276.5 85.17,283.38 86,288 C87,293.54 88,302.13 89,308 C90.33,315.82 91.67,327.2 93,327.2 C94,327.2 95,323.7 96,320 C97,316.3 98,310.07 99,305 C100.17,299.09 101.33,291.51 102.5,287 C103.53,283 104.57,278.5 105.6,278.5 C106.4,278.5 107.2,281.09 108,283 C109.33,286.19 110.67,292 112,296 C113.33,300 114.67,304.2 116,307 C117.57,310.29 119.13,313.3 120.7,313.3 C121.8,313.3 122.9,309.8 124,306 C124.83,303.12 125.67,298.11 126.5,295 C127.23,292.27 127.97,288.1 128.7,288.1 C129.3,288.1 129.9,289.73 130.5,293 C131.1,296.27 131.7,304.95 132.3,310 C133.47,319.82 134.63,326.38 135.8,332.5 C136.97,338.62 138.13,346.7 139.3,346.7 C140.37,346.7 141.43,341.7 142.5,341.7 C142.93,341.7 143.37,349.49 143.8,355 C144.1,358.82 144.4,364.87 144.7,368 C145.47,376 146.23,376.59 147,380 C147.83,383.7 148.67,386.49 149.5,389 C150.27,391.31 151.03,393.75 151.8,394.7 C153.2,396.43 154.6,397.3 156,397.3 C162.33,397.3 168.67,397.3 175,397.3 C177.17,397.3 179.33,396.87 181.5,396 C182.17,395.73 182.83,394.33 183.5,392 C184.17,389.67 184.83,384.4 185.5,382 C186.1,379.84 186.7,377.8 187.3,377.8 C187.87,377.8 188.43,379.2 189,382 C189.5,384.47 190,390.45 190.5,393 C191,395.55 191.5,397.3 192,397.3 C195.33,397.3 198.67,397.3 202,397.3 C203,397.3 204,396.2 205,395 C206.17,393.6 207.33,393 208.5,389 C209.33,386.14 210.17,376.87 211,372 C211.73,367.72 212.47,361 213.2,361 C213.97,361 214.73,366.81 215.5,372 C216.17,376.51 216.83,386.52 217.5,389 C218.67,393.33 219.83,394.45 221,395.5 C222.33,396.7 223.67,397.3 225,397.3 C226.67,397.3 228.33,396.3 230,396.3 C230.67,396.3 231.33,397.3 232,397.3 C247,397.3 262,397.3 277,397.3 C278.33,397.3 279.67,395.5 281,395.5 C282,395.5 283,397.3 284,397.3 C285.5,397.3 287,395.53 288.5,392 C289.17,390.43 289.83,382.07 290.5,378 C291.13,374.13 291.77,368 292.4,368 C292.87,368 293.33,374.44 293.8,378 C294.37,382.33 294.93,389.45 295.5,392 C296.17,395 296.83,396.36 297.5,396.5 C300,397.03 302.5,397.3 305,397.3 C309.33,397.3 313.67,397.3 318,397.3 C318.83,397.3 319.67,395.53 320.5,392 C321,389.88 321.5,384.81 322,382 C322.47,379.38 322.93,375.5 323.4,375.5 C323.93,375.5 324.47,380.32 325,383 C325.5,385.51 326,390.71 326.5,391 C327.67,391.67 328.83,391.88 330,392 C333.33,392.33 336.67,392.5 340,392.5 C341.33,392.5 342.67,391.53 344,390 C344.83,389.04 345.67,386.3 346.5,386.3 C347.33,386.3 348.17,389.3 349,391 C349.83,392.7 350.67,396.4 351.5,396.5 C356,397.03 360.5,397.3 365,397.3 C366.33,397.3 367.67,396.2 369,394 C369.5,393.18 370,387.81 370.5,384 C371.03,379.94 371.57,370.2 372.1,370.2 C372.57,370.2 373.03,375.1 373.5,380 C373.83,383.5 374.17,391.57 374.5,393 C375.17,395.87 375.83,397.3 376.5,397.3 C385.33,397.3 394.17,397.3 403,397.3 C403.67,397.3 404.33,396.53 405,395 C405.67,393.47 406.33,392.33 407,387 C407.5,383 408,363.62 408.5,355 C409.47,338.34 410.43,328 411.4,328 C411.93,328 412.47,334.3 413,342 C413.33,346.81 413.67,356.67 414,360 C415.2,372 416.4,378 417.6,378 C419.07,378 420.53,371.96 422,361 C423.33,351.04 424.67,332.27 426,318 C427,307.3 428,286 429,286 C429.67,286 430.33,288 431,291 C431.67,294 432.33,300.16 433,304 C434,309.77 435,314.5 436,318 C437,321.5 438,325 439,325 C441.33,325 443.67,323 446,319 C447,317.29 448,310.81 449,306 C449.83,301.99 450.67,296.7 451.5,293 C452.2,289.89 452.9,285 453.6,285 C454.23,285 454.87,289.82 455.5,295 C456.33,301.81 457.17,316.78 458,325 C459.67,341.44 461.33,353 463,353 C464,353 465,351.99 466,351 C466.8,350.21 467.6,348 468.4,348 C468.93,348 469.47,354.84 470,358 C470.67,361.94 471.33,365.67 472,369 C473.33,375.67 474.67,381.33 476,385 C477.33,388.67 478.67,389.67 480,391 C482,393 484,394 486,394 C489.33,394 492.67,392.33 496,389 C498,387 500,383.67 502,373 C503.33,365.89 504.67,357 506,340 C506.67,331.5 507.33,317.73 508,310 C508.8,300.73 509.6,292 510.4,292 C510.93,292 511.47,296.1 512,300 C513,307.32 514,325.98 515,335 C516.33,347.03 517.67,357 519,357 C519.83,357 520.67,350.33 521.5,345 C522.33,339.67 523.17,331.97 524,325 C525.2,314.96 526.4,303.98 527.6,293" fill="none" stroke="#dc161e" stroke-width="1.7" stroke-linejoin="round"/>
<path d="M75.2,493.6 C75.97,488.04 76.73,482.49 77.5,478 C78.57,471.76 79.63,466.08 80.7,463.4 C81.87,460.47 83.03,459 84.2,459 C84.97,459 85.73,466.86 86.5,472 C87.53,478.93 88.57,489.21 89.6,497.2 C90.4,503.38 91.2,509.99 92,515 C92.67,519.17 93.33,523.06 94,525.6 C94.83,528.78 95.67,529.47 96.5,530.5 C97.13,531.28 97.77,531.8 98.4,531.8 C99.1,531.8 99.8,528.53 100.5,526 C101.6,522.02 102.7,516.06 103.8,509.6 C104.87,503.33 105.93,494.51 107,488 C107.83,482.91 108.67,476.38 109.5,474 C109.97,472.67 110.43,472 110.9,472 C111.6,472 112.3,472.33 113,473 C113.83,473.79 114.67,478.87 115.5,482 C116.33,485.13 117.17,488.86 118,491.8 C119,495.33 120,498 121,501 C121.77,503.3 122.53,505.96 123.3,507.8 C124.2,509.96 125.1,511.17 126,512.5 C126.9,513.83 127.8,514.87 128.7,515.8 C129.47,516.59 130.23,517.35 131,517.8 C131.7,518.21 132.4,518.5 133.1,518.5 C134.07,518.5 135.03,517.12 136,516.8 C136.8,516.53 137.6,516.4 138.4,516.4 C139.1,516.4 139.8,518.35 140.5,520 C141.3,521.88 142.1,524.85 142.9,527.4 C143.77,530.17 144.63,533.11 145.5,536 C146.4,539 147.3,542.47 148.2,545.1 C149.13,547.83 150.07,549.85 151,552 C151.87,554 152.73,556.17 153.6,557.6 C154.73,559.47 155.87,560.07 157,561 C158.23,562.01 159.47,562.76 160.7,563.3 C161.8,563.78 162.9,564.12 164,564.2 C164.97,564.27 165.93,564.3 166.9,564.3 C167.93,564.3 168.97,563.82 170,563 C171.03,562.18 172.07,561.8 173.1,559.4 C173.73,557.93 174.37,554.53 175,550 C175.57,545.95 176.13,540.9 176.7,534.5 C177.3,527.72 177.9,516.46 178.5,510 C179.37,500.67 180.23,492.7 181.1,492.7 C181.73,492.7 182.37,498.66 183,505 C183.57,510.67 184.13,519.82 184.7,527.4 C185.13,533.2 185.57,540.57 186,545 C186.43,549.43 186.87,553.05 187.3,554 C188.37,556.33 189.43,556.6 190.5,557.5 C191.67,558.48 192.83,558.78 194,559.5 C195.27,560.28 196.53,562 197.8,562 C198.97,562 200.13,559 201.3,559 C202.5,559 203.7,559.4 204.9,559.4 C205.43,559.4 205.97,553.05 206.5,545 C206.87,539.47 207.23,529.92 207.6,523.8 C208.07,516.01 208.53,509.9 209,505 C209.4,500.8 209.8,495.4 210.2,495.4 C210.8,495.4 211.4,500.25 212,506 C212.5,510.79 213,518.34 213.5,525 C213.9,530.33 214.3,537 214.7,541.6 C215.23,547.73 215.77,551.56 216.3,555 C216.93,559.08 217.57,561.27 218.2,562.9 C219.13,565.3 220.07,565.61 221,566.5 C222.33,567.77 223.67,568.4 225,568.4 C233.33,568.4 241.67,568.4 250,568.4 C250.83,568.4 251.67,566.3 252.5,566.3 C253.33,566.3 254.17,568.4 255,568.4 C260.67,568.4 266.33,568.4 272,568.4 C272.83,568.4 273.67,566.74 274.5,564 C275.17,561.81 275.83,558.12 276.5,555 C277.23,551.57 277.97,544.3 278.7,544.3 C279.3,544.3 279.9,549.45 280.5,552 C281.37,555.68 282.23,562.9 283.1,562.9 C283.9,562.9 284.7,557.34 285.5,552 C286,548.67 286.5,542.43 287,540 C287.47,537.73 287.93,536.6 288.4,536.6 C289.1,536.6 289.8,537.07 290.5,538 C290.83,538.44 291.17,542.76 291.5,545 C292.27,550.15 293.03,555.33 293.8,559 C294.37,561.71 294.93,564.59 295.5,565.5 C296.33,566.83 297.17,567.39 298,567.5 C302.67,568.1 307.33,568.4 312,568.4 C312.33,568.4 312.67,566.04 313,565 C314,561.87 315,562.67 316,558 C316.83,554.11 317.67,546.12 318.5,535 C318.83,530.55 319.17,524.33 319.5,520 C320.03,513.06 320.57,504.3 321.1,504.3 C321.57,504.3 322.03,509.93 322.5,515 C322.93,519.71 323.37,526.93 323.8,533 C324.2,538.61 324.6,545.83 325,550 C325.77,558 326.53,559.19 327.3,562 C328.2,565.3 329.1,566.16 330,567 C331,567.93 332,568.4 333,568.4 C338.67,568.4 344.33,568.4 350,568.4 C350.67,568.4 351.33,567.6 352,566 C352.67,564.4 353.33,560.5 354,558 C354.67,555.5 355.33,551.28 356,551 C356.8,550.67 357.6,550.5 358.4,550.5 C358.93,550.5 359.47,554.01 360,556 C360.5,557.86 361,561.57 361.5,562 C362.27,562.67 363.03,563 363.8,563 C365.53,563 367.27,562.73 369,562.2 C370,561.89 371,556.17 372,550 C373.1,543.21 374.2,522 375.3,522 C376.03,522 376.77,538.62 377.5,545 C378.57,554.28 379.63,564.34 380.7,564.7 C382.47,565.3 384.23,565.6 386,565.6 C387.67,565.6 389.33,563.85 391,563 C392.33,562.32 393.67,562.33 395,561 C396,560 397,559 398,555 C398.73,552.07 399.47,548.45 400.2,541.6 C400.8,536 401.4,528.6 402,520 C402.6,511.4 403.2,498.5 403.8,490 C404.2,484.33 404.6,478.84 405,475 C405.5,470.19 406,466 406.5,466 C407,466 407.5,469 408,475 C408.33,479 408.67,507.44 409,515 C410,537.67 411,545 412,549 C413,553 414,554.33 415,555 C416,555.67 417,556 418,556 C419,556 420,552.9 421,550 C421.67,548.07 422.33,547.67 423,543 C423.67,538.33 424.33,528 425,520 C425.67,512 426.33,501.42 427,495 C428,485.37 429,479 430,479 C430.8,479 431.6,480.33 432.4,483 C433.47,486.56 434.53,501.12 435.6,503 C436.73,505 437.87,506 439,506 C440,506 441,501.22 442,499 C443.47,495.75 444.93,490 446.4,490 C447.6,490 448.8,492.59 450,494 C451.33,495.57 452.67,496.93 454,499 C456,502.1 458,506.79 460,511 C462.67,516.62 465.33,523.83 468,529 C470.67,534.17 473.33,538.96 476,542 C478.33,544.66 480.67,547 483,547 C484.67,547 486.33,546 488,544 C489,542.8 490,540.17 491,537 C492,533.83 493,532.6 494,525 C494.67,519.93 495.33,511.67 496,505 C496.67,498.33 497.33,490.51 498,485 C499,476.73 500,473.1 501,468 C501.87,463.58 502.73,456 503.6,456 C504.4,456 505.2,461.21 506,464 C507,467.48 508,471.96 509,475 C510.67,480.07 512.33,482.01 514,485 C515.33,487.39 516.67,489.68 518,491.5 C518.87,492.68 519.73,494.6 520.6,494.6 C521.4,494.6 522.2,492.66 523,490 C523.67,487.78 524.33,484.7 525,481 C525.87,476.19 526.73,469.59 527.6,463" fill="none" stroke="#dc161e" stroke-width="1.7" stroke-linejoin="round"/>
<path d="M75.2,620.6 C75.97,620.92 76.73,621.23 77.5,622.5 C78.17,623.6 78.83,627.19 79.5,630 C80.77,635.34 82.03,643.89 83.3,649.4 C84.03,652.59 84.77,655.38 85.5,658 C86.27,660.74 87.03,663.29 87.8,665.4 C88.53,667.42 89.27,669.17 90,670.5 C90.73,671.83 91.47,673.4 92.2,673.4 C92.8,673.4 93.4,671.9 94,670 C94.6,668.1 95.2,665.11 95.8,662 C96.37,659.06 96.93,655.47 97.5,652 C98.1,648.32 98.7,644.24 99.3,640.5 C99.93,636.56 100.57,632.11 101.2,629 C101.77,626.22 102.33,622.4 102.9,622.4 C103.33,622.4 103.77,627.12 104.2,630 C104.67,633.1 105.13,636 105.6,640.5 C106.07,645 106.53,651.22 107,657 C107.4,661.96 107.8,668.11 108.2,672.5 C108.8,679.08 109.4,682.55 110,687 C110.6,691.45 111.2,695.64 111.8,699.2 C112.53,703.55 113.27,706.75 114,710 C114.73,713.25 115.47,716.39 116.2,718.7 C116.97,721.11 117.73,722.5 118.5,724 C119.23,725.44 119.97,727 120.7,727.6 C122.17,728.8 123.63,729.4 125.1,729.4 C126.23,729.4 127.37,728.27 128.5,726 C129.17,724.67 129.83,722.7 130.5,720 C131.07,717.71 131.63,716.91 132.2,711.6 C132.63,707.54 133.07,700.7 133.5,695 C133.97,688.86 134.43,682.59 134.9,676 C135.27,670.82 135.63,664.46 136,660 C136.4,655.13 136.8,648.5 137.2,648.5 C137.63,648.5 138.07,650 138.5,650 C138.97,650 139.43,646.7 139.9,646.7 C140.37,646.7 140.83,655.46 141.3,660 C141.83,665.19 142.37,672.17 142.9,676 C143.43,679.83 143.97,681.37 144.5,683 C145.03,684.63 145.57,685.8 146.1,685.8 C146.57,685.8 147.03,678.69 147.5,675 C148.03,670.78 148.57,667.21 149.1,662 C149.47,658.42 149.83,652.92 150.2,650 C150.5,647.61 150.8,645 151.1,645 C151.57,645 152.03,648.31 152.5,651 C153,653.88 153.5,658.5 154,662 C154.5,665.5 155,668.86 155.5,672 C156.03,675.35 156.57,678.26 157.1,681.4 C158,686.7 158.9,697.4 159.8,697.4 C160.37,697.4 160.93,697.27 161.5,697 C162.1,696.72 162.7,696.53 163.3,695.6 C164.03,694.46 164.77,691.69 165.5,690 C166.27,688.24 167.03,685.3 167.8,685.3 C168.53,685.3 169.27,693.22 170,697 C170.73,700.78 171.47,704.88 172.2,708 C172.97,711.26 173.73,713.57 174.5,716 C175.23,718.32 175.97,720.55 176.7,722.3 C177.57,724.36 178.43,725.82 179.3,727 C180.2,728.22 181.1,728.72 182,729.4 C182.83,730.03 183.67,730.58 184.5,731 C185.43,731.47 186.37,732 187.3,732 C188.43,732 189.57,730.41 190.7,727.6 C191.3,726.11 191.9,724.79 192.5,722 C193.07,719.36 193.63,716.71 194.2,711.6 C194.63,707.69 195.07,702.12 195.5,697 C195.97,691.49 196.43,683.72 196.9,679.6 C197.27,676.36 197.63,674.41 198,673 C198.4,671.47 198.8,670.7 199.2,670.7 C199.57,670.7 199.93,675.87 200.3,680 C200.63,683.75 200.97,689.73 201.3,693.8 C201.73,699.09 202.17,702.71 202.6,707 C203.07,711.62 203.53,716.77 204,720.5 C204.6,725.3 205.2,731.1 205.8,731.1 C206.37,731.1 206.93,730.56 207.5,730 C208.1,729.41 208.7,727.6 209.3,727.6 C209.87,727.6 210.43,731 211,731 C211.43,731 211.87,725 212.3,722 C212.8,718.54 213.3,715.13 213.8,711.6 C214.2,708.77 214.6,705.4 215,703 C215.47,700.2 215.93,696.5 216.4,696.5 C216.93,696.5 217.47,698.09 218,699 C218.37,699.63 218.73,701 219.1,701 C219.63,701 220.17,693.42 220.7,690 C221.23,686.58 221.77,681.21 222.3,680.5 C222.8,679.83 223.3,679.5 223.8,679.5 C224.3,679.5 224.8,680.13 225.3,681.4 C225.6,682.16 225.9,689.97 226.2,695 C226.5,700.03 226.8,706.97 227.1,711.6 C227.53,718.29 227.97,721.95 228.4,726 C228.87,730.37 229.33,735.35 229.8,736.5 C230.53,738.3 231.27,739.2 232,739.2 C237.67,739.2 243.33,739.2 249,739.2 C249.67,739.2 250.33,737.77 251,736.5 C251.5,735.54 252,733.88 252.5,733 C253.1,731.95 253.7,731.1 254.3,731.1 C254.87,731.1 255.43,732.07 256,733 C256.67,734.09 257.33,737.5 258,737.5 C258.67,737.5 259.33,736.93 260,736 C260.83,734.84 261.67,732.12 262.5,730.5 C263.33,728.88 264.17,726.3 265,726.3 C265.67,726.3 266.33,728.2 267,730 C267.5,731.35 268,733.47 268.5,735 C269,736.53 269.5,739.2 270,739.2 C277.33,739.2 284.67,739.2 292,739.2 C293.5,739.2 295,735.8 296.5,735.8 C297.67,735.8 298.83,739.2 300,739.2 C316.67,739.2 333.33,739.2 350,739.2 C350.83,739.2 351.67,735.51 352.5,733 C353,731.49 353.5,728.93 354,728 C354.47,727.13 354.93,726.7 355.4,726.7 C355.83,726.7 356.27,727.78 356.7,729 C357.2,730.4 357.7,733.38 358.2,735 C358.8,736.95 359.4,739.2 360,739.2 C361.33,739.2 362.67,738.8 364,738 C364.83,737.5 365.67,736 366.5,736 C367.17,736 367.83,737 368.5,737 C369,737 369.5,733.2 370,731.1 C370.67,728.3 371.33,725.76 372,722 C372.53,719 373.07,716.59 373.6,711.6 C374.07,707.23 374.53,701.53 375,695 C375.4,689.4 375.8,681.83 376.2,676 C376.47,672.11 376.73,668.26 377,665 C377.33,660.93 377.67,655.56 378,654.7 C378.9,652.37 379.8,651.2 380.7,651.2 C381.13,651.2 381.57,656.87 382,661 C382.43,665.13 382.87,672.28 383.3,676 C383.87,680.86 384.43,682.3 385,684 C385.8,686.4 386.6,687.6 387.4,687.6 C388.1,687.6 388.8,684.12 389.5,682 C390.1,680.18 390.7,679.51 391.3,676 C391.87,672.68 392.43,666.24 393,662 C393.63,657.26 394.27,653.25 394.9,649.4 C395.33,646.77 395.77,644.16 396.2,642 C396.67,639.68 397.13,636.1 397.6,636.1 C398.07,636.1 398.53,647.69 399,655 C399.4,661.26 399.8,670.2 400.2,676 C400.8,684.7 401.4,688.67 402,694 C402.6,699.33 403.2,703.73 403.8,708 C404.2,710.84 404.6,713.81 405,716 C405.5,718.74 406,720.41 406.5,722 C407.07,723.8 407.63,725.64 408.2,725.8 C408.67,725.93 409.13,726 409.6,726 C410.4,726 411.2,724.96 412,724 C412.67,723.2 413.33,723 414,721 C414.5,719.5 415,715.33 415.5,711 C416,706.67 416.5,700.81 417,695 C417.6,688.02 418.2,679.5 418.8,672 C419.4,664.5 420,650 420.6,650 C421.4,650 422.2,650.67 423,652 C423.67,653.11 424.33,675.56 425,685 C426,699.17 427,710.6 428,717 C429.67,727.67 431.33,731.52 433,733 C436,735.67 439,737 442,737 C444,737 446,736.33 448,735 C449.33,734.11 450.67,733.67 452,731 C452.67,729.67 453.33,727.33 454,720 C454.33,716.33 454.67,710.83 455,705 C455.33,699.17 455.67,691.67 456,685 C456.33,678.33 456.67,666.56 457,665 C458,660.33 459,658 460,658 C460.5,658 461,665.5 461.5,670 C462,674.5 462.5,680.83 463,685 C464,693.33 465,700 466,700 C466.67,700 467.33,685.5 468,678 C468.67,670.5 469.33,661.33 470,655 C470.67,648.67 471.33,643.5 472,640 C472.67,636.5 473.33,634 474,634 C474.5,634 475,642.83 475.5,648 C476,653.17 476.5,659.67 477,665 C477.5,670.33 478,675.5 478.5,680 C479,684.5 479.5,692 480,692 C481.33,692 482.67,689.67 484,685 C484.67,682.67 485.33,676.17 486,673 C486.67,669.83 487.33,666 488,666 C489,666 490,668.39 491,672 C492.33,676.81 493.67,689.68 495,695 C496,698.99 497,700.99 498,703 C499.2,705.41 500.4,707.4 501.6,707.4 C503.07,707.4 504.53,705.93 506,703 C506.67,701.67 507.33,698 508,695 C508.67,692 509.33,689.5 510,685 C510.67,680.5 511.33,674.67 512,668 C512.67,661.33 513.33,652.1 514,645 C514.5,639.68 515,633.6 515.5,630 C516,626.4 516.5,623.4 517,623.4 C517.5,623.4 518,628.4 518.5,632 C519,635.6 519.5,640.92 520,645 C520.67,650.44 521.33,655.67 522,660 C522.67,664.33 523.33,668.41 524,671 C525.2,675.67 526.4,676.83 527.6,678" fill="none" stroke="#dc161e" stroke-width="1.7" stroke-linejoin="round"/>
<path d="M209.35,274.45 V737" stroke="#24249c" stroke-width="2.1" stroke-dasharray="2.7 5.655" fill="none"/>
<path d="M279.07,274.45 V737" stroke="#24249c" stroke-width="2.1" stroke-dasharray="2.7 5.655" fill="none"/>
<path d="M291.96,274.45 V737" stroke="#24249c" stroke-width="2.1" stroke-dasharray="2.7 5.655" fill="none"/>
<path d="M320.04,274.45 V737" stroke="#24249c" stroke-width="2.1" stroke-dasharray="2.7 5.655" fill="none"/>
<text transform="translate(184.7,286.8) scale(1.04,1)">R3</text>
<text transform="translate(254.3,288.2) scale(1.04,1)">R2</text>
<text transform="translate(296.1,286.8) scale(1.04,1)">R1</text>
<text transform="translate(322.2,286.8) scale(1.04,1)">R4</text>
<text transform="translate(75,772.7) scale(1.04,1)" text-anchor="middle">1,549.8</text>
<text transform="translate(301.5,772.7) scale(1.04,1)" text-anchor="middle">1,550.0</text>
<text transform="translate(528,772.7) scale(1.04,1)" text-anchor="middle">1,550.2</text>
<text transform="translate(301.3,792.8) scale(1.04,1)" text-anchor="middle">Wavelength (nm)</text>
<text transform="translate(15.7,498.9) rotate(-90) scale(1.04,1)" text-anchor="middle">Transmission</text>
<text x="535.5" y="282.2" font-weight="bold" font-size="17">Original disorder</text>
<text x="535.5" y="304" font-weight="bold" font-size="17">(start)</text>
<path d="M535,319.9 H575" stroke="#000" stroke-width="2"/>
<text transform="translate(579.5,325.5) scale(1.04,1)">Simulation</text>
<path d="M535,341.5 H575" stroke="#dc161e" stroke-width="2"/>
<text transform="translate(579.5,346.9) scale(1.04,1)">Fabrication</text>
<text transform="translate(535.5,369.2) scale(1.04,1)">TLF: <tspan fill="#d7181f">449.62</tspan></text>
<text x="535.5" y="459.7" font-weight="bold" font-size="17">Optimized</text>
<text x="535.5" y="481.5" font-weight="bold" font-size="17">disorder 1</text>
<text x="535.5" y="503.4" font-weight="bold" font-size="17">(localization)</text>
<path d="M535,518 H575" stroke="#000" stroke-width="2"/>
<text transform="translate(579.5,524.2) scale(1.04,1)">Simulation</text>
<path d="M535,540.3 H575" stroke="#dc161e" stroke-width="2"/>
<text transform="translate(579.5,546) scale(1.04,1)">Fabrication</text>
<text transform="translate(535.5,568) scale(1.04,1)">TLF<tspan fill="#d7181f">: 1,881.58</tspan></text>
<text x="535.5" y="634.3" font-weight="bold" font-size="17">Optimized</text>
<text x="535.5" y="656.1" font-weight="bold" font-size="17">disorder 2</text>
<text x="535.5" y="678" font-weight="bold" font-size="17">(delocalization)</text>
<path d="M535,693.5 H575" stroke="#000" stroke-width="2"/>
<text transform="translate(579.5,699.2) scale(1.04,1)">Simulation</text>
<path d="M535,714.9 H575" stroke="#dc161e" stroke-width="2"/>
<text transform="translate(579.5,720.6) scale(1.04,1)">Fabrication</text>
<text transform="translate(535.5,742.5) scale(1.04,1)">TLF: <tspan fill="#d7181f">13.09</tspan></text>
</svg></body></html>
